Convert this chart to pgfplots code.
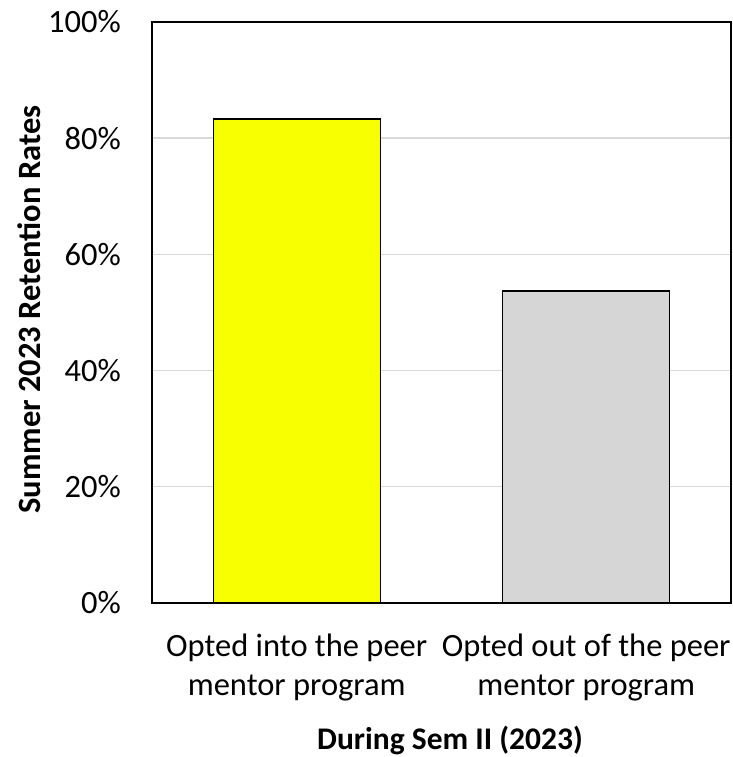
\documentclass[border=0pt]{standalone}
\usepackage{pgfplots}
\pgfplotsset{compat=1.18}
\usepackage{fontspec}
\setmainfont{Carlito}
\definecolor{baryellow}{RGB}{248,255,0}
\definecolor{bargray}{RGB}{214,214,214}
\definecolor{gridgray}{RGB}{217,217,217}
\begin{document}
\begin{tikzpicture}
\begin{axis}[
  at={(0pt,0pt)}, anchor=south west,
  scale only axis, width=579pt, height=581pt,
  xmin=-0.5, xmax=1.5, ymin=0, ymax=100,
  xtick={0,1},
  xticklabels={{Opted into the peer\\mentor program},{Opted out of the peer\\mentor program}},
  ytick={0,20,40,60,80,100},
  yticklabel={\pgfmathprintnumber{\tick}\%},
  /pgf/number format/assume math mode=true,
  ymajorgrids, grid style={gridgray, line width=1.4pt},
  major tick length=0pt,
  axis line style={black, line width=1.4pt},
  tick label style={font=\fontsize{32.5}{39}\selectfont, inner sep=0pt},
  xticklabel style={anchor=north, align=center, yshift=-31pt},
  yticklabel style={anchor=east, xshift=-31pt},
  ylabel={Summer 2023 Retention Rates},
  ylabel style={font=\bfseries\fontsize{32.5}{38}\selectfont, at={(axis description cs:-0.2124,0.505)}, anchor=center, inner sep=0pt},
  xlabel={During Sem II (2023)},
  xlabel style={font=\bfseries\fontsize{31.5}{38}\selectfont, at={(axis description cs:0.5147,-0.2530)}, anchor=base, inner sep=0pt},
]
\addplot[ybar, bar width=167pt, bar shift=0pt, fill=baryellow, draw=black, line width=1.4pt] coordinates {(0,83.3)};
\addplot[ybar, bar width=167pt, bar shift=0pt, fill=bargray, draw=black, line width=1.4pt] coordinates {(1,53.7)};
\end{axis}
\path (-152pt,-154pt) rectangle (580pt,603pt);
\end{tikzpicture}
\end{document}
